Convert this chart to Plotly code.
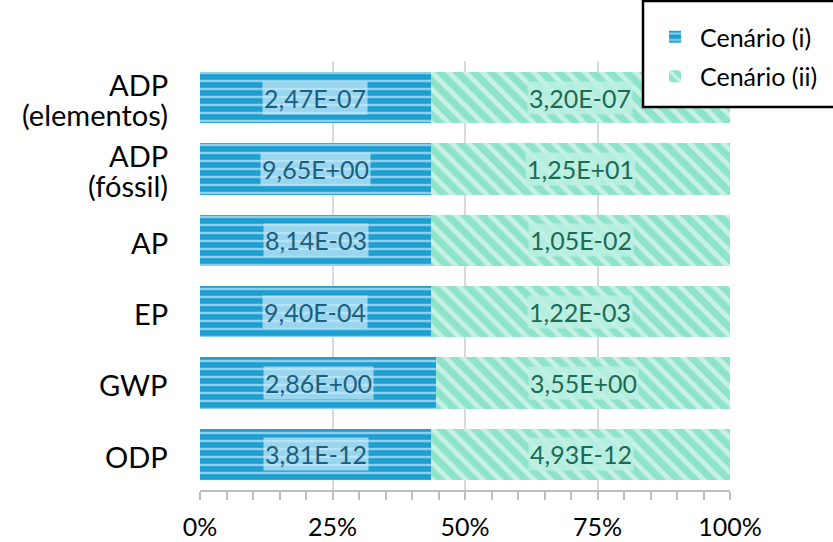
import plotly.graph_objects as go

categories = ["ADP (elementos)", "ADP (fóssil)", "AP", "EP", "GWP", "ODP"]
category_lines = [["ADP", "(elementos)"], ["ADP", "(fóssil)"], ["AP"], ["EP"], ["GWP"], ["ODP"]]
cen_i = [2.47e-07, 9.65e+00, 8.14e-03, 9.40e-04, 2.86e+00, 3.81e-12]
cen_ii = [3.20e-07, 1.25e+01, 1.05e-02, 1.22e-03, 3.55e+00, 4.93e-12]
labels_i = ["2,47E-07", "9,65E+00", "8,14E-03", "9,40E-04", "2,86E+00", "3,81E-12"]
labels_ii = ["3,20E-07", "1,25E+01", "1,05E-02", "1,22E-03", "3,55E+00", "4,93E-12"]
tick_vals = [0, 25, 50, 75, 100]
tick_text = ["0%", "25%", "50%", "75%", "100%"]

FONT = "Lato, 'Open Sans', sans-serif"
BLUE = "#1E9FD2"
TEAL = "#8EE3CB"

fig = go.Figure()
fig.add_trace(go.Bar(
    y=categories, x=cen_i, orientation="h", name="Cenário (i)", legendgroup="a",
    marker=dict(color=BLUE, line=dict(width=0),
                pattern=dict(shape="-", fgcolor="white", bgcolor=BLUE, size=8, solidity=0.3)),
))
fig.add_trace(go.Bar(
    y=categories, x=cen_ii, orientation="h", name="Cenário (ii)", legendgroup="b",
    marker=dict(color=TEAL, line=dict(width=0),
                pattern=dict(shape="\\", fgcolor="white", bgcolor=TEAL, size=12, solidity=0.4)),
))

# data labels with background boxes at segment midpoints
for c, a, b, la, lb in zip(categories, cen_i, cen_ii, labels_i, labels_ii):
    tot = a + b
    pa = a / tot * 100
    fig.add_annotation(x=pa / 2, y=c, text=la, showarrow=False,
                       font=dict(family=FONT, size=25, color="#1B5F80"),
                       bgcolor="rgba(200,234,250,0.72)", borderpad=1)
    fig.add_annotation(x=pa + (100 - pa) / 2, y=c, text=lb, showarrow=False,
                       font=dict(family=FONT, size=25, color="#1C6B55"),
                       bgcolor="rgba(190,240,228,0.8)", borderpad=1)

# category labels (two-line ones with tighter line spacing)
for c, lines in zip(categories, category_lines):
    n = len(lines)
    for k, ln in enumerate(lines):
        shift = (n - 1) * 15 - k * 30 - 2
        fig.add_annotation(x=0, xref="paper", y=c, yref="y", text=ln, showarrow=False,
                           xanchor="right", xshift=-30, yshift=shift,
                           font=dict(family=FONT, size=29, color="black"))

# legend frame (extends past the right edge, as in the reference)
fig.add_shape(type="rect", xref="paper", yref="paper",
              x0=(643 - 200) / 530, x1=1.3, y0=(490 - 107) / 429, y1=(490 - 1) / 429,
              line=dict(color="black", width=2.5), fillcolor="white", layer="above")

fig.update_layout(
    barmode="stack", barnorm="percent", bargap=0.28,
    width=833, height=542,
    margin=dict(l=200, r=103, t=61, b=52, autoexpand=False),
    plot_bgcolor="white", paper_bgcolor="white",
    font=dict(family=FONT, size=24, color="black"),
    legend=dict(x=650 / 833, y=1 - 14 / 542, xref="container", yref="container",
                xanchor="left", yanchor="top",
                borderwidth=0, bgcolor="rgba(0,0,0,0)",
                font=dict(family=FONT, size=25, color="black"),
                traceorder="grouped", tracegroupgap=4, itemwidth=40),
    xaxis=dict(range=[0, 100], tickvals=tick_vals, ticktext=tick_text,
               showgrid=True, gridcolor="#D9D9D9", gridwidth=1.5,
               showline=True, linecolor="#BFBFBF", linewidth=1.5,
               ticks="outside", ticklen=8, tickcolor="#BFBFBF", tickwidth=1.5,
               minor=dict(dtick=5, tick0=0, ticks="outside", ticklen=8,
                          tickcolor="#BFBFBF", tickwidth=1.5, showgrid=False),
               tickfont=dict(size=25), ticklabelstandoff=6, zeroline=False,
               automargin=False),
    yaxis=dict(autorange="reversed", showgrid=False, showline=False,
               ticks="", showticklabels=False, automargin=False),
)

fig.write_html("out.html", config={"displayModeBar": False},
               post_script="document.body.style.margin='0';")
